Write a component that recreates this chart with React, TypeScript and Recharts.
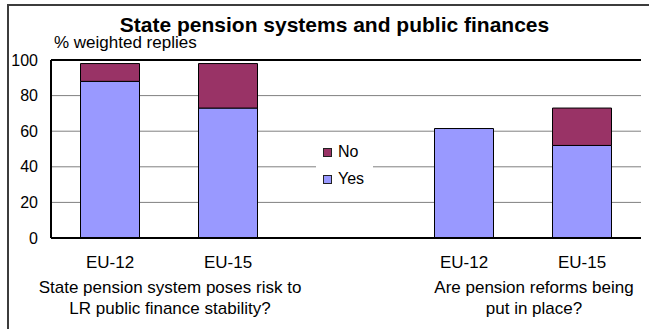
import React from "react";
import { BarChart, Bar, XAxis, YAxis, CartesianGrid, Legend, ReferenceLine } from "recharts";

const categories = ["EU-12", "EU-15", "", "EU-12", "EU-15"];
const yesValues = [88, 73, null, 61.5, 52];
const noValues = [10, 25, null, null, 21];
const yTicks = [0, 20, 40, 60, 80, 100];
const legendOrder = ["No", "Yes"];
const groupLabels = [
  { center: 170, lines: ["State pension system poses risk to", "LR public finance stability?"] },
  { center: 534, lines: ["Are pension reforms being", "put in place?"] },
];

const data = categories.map((name, i) => ({ name, yes: yesValues[i], no: noValues[i] }));

const FONT = "'Liberation Sans', Arial, sans-serif";

function LegendBox(props: any) {
  const items = legendOrder
    .map((n) => (props.payload || []).find((p: any) => p.value === n))
    .filter(Boolean);
  return (
    <div style={{ position: "relative", width: 57, height: 52, background: "#fff", fontFamily: FONT, fontSize: 16 }}>
      {items.map((it: any, i: number) => (
        <div key={it.value} style={{ position: "absolute", left: 7, top: i === 0 ? 4 : 31, height: 16, lineHeight: "16px", display: "flex", alignItems: "center", whiteSpace: "nowrap" }}>
          <span style={{ display: "inline-block", boxSizing: "border-box", width: 9, height: 9, background: it.color, border: "1px solid #222", marginRight: 6 }} />
          <span style={{ color: "#000" }}>{it.value}</span>
        </div>
      ))}
    </div>
  );
}

export default function App() {
  return (
    <div style={{ position: "absolute", left: 0, top: 0, width: 649, height: 329, background: "#fff", fontFamily: FONT, overflow: "hidden" }}>
      <div style={{ position: "absolute", left: 7, top: 4, width: 700, height: 400, borderTop: "2px solid #3c3c3c", borderLeft: "2px solid #3c3c3c" }} />
      <BarChart width={649} height={329} data={data} margin={{ top: 60, right: 8, bottom: 61, left: 11 }} barCategoryGap="25%">
        <CartesianGrid vertical={false} stroke="#808080" />
        <XAxis dataKey="name" height={30} axisLine={{ stroke: "#000", strokeWidth: 2 }} tickLine={false} tickSize={0} tickMargin={18} tick={{ fill: "#000", fontSize: 17, fontFamily: FONT }} interval={0} />
        <YAxis width={40} domain={[0, 100]} ticks={yTicks} axisLine={{ stroke: "#000", strokeWidth: 2 }} tickLine={false} tickSize={0} tickMargin={13} tick={{ fill: "#000", fontSize: 16, fontFamily: FONT }} />
        <YAxis yAxisId="r" orientation="right" width={0} domain={[0, 100]} tick={false} tickLine={false} axisLine={{ stroke: "#000", strokeWidth: 2 }} />
        <ReferenceLine y={100} stroke="#000" strokeWidth={2} />
        <Legend layout="vertical" align="center" verticalAlign="middle" content={<LegendBox />} wrapperStyle={{ left: 316, top: 140, width: 57, height: 52 }} />
        <Bar dataKey="yes" name="Yes" stackId="a" fill="#9999FF" stroke="#000" strokeWidth={1} isAnimationActive={false} />
        <Bar dataKey="no" name="No" stackId="a" fill="#993366" stroke="#000" strokeWidth={1} isAnimationActive={false} />
      </BarChart>
      <svg width={649} height={329} style={{ position: "absolute", left: 0, top: 0, pointerEvents: "none" }}>
        <text x={334.5} y={32} textAnchor="middle" fontSize={21} fontWeight="bold" fontFamily={FONT} fill="#000">
          State pension systems and public finances
        </text>
        <text x={54} y={48} fontSize={17} fontFamily={FONT} fill="#000">
          % weighted replies
        </text>
        {groupLabels.map((g) =>
          g.lines.map((line, j) => (
            <text key={line} x={g.center} y={293 + j * 21} textAnchor="middle" fontSize={17} fontFamily={FONT} fill="#000">
              {line}
            </text>
          ))
        )}
      </svg>
    </div>
  );
}
